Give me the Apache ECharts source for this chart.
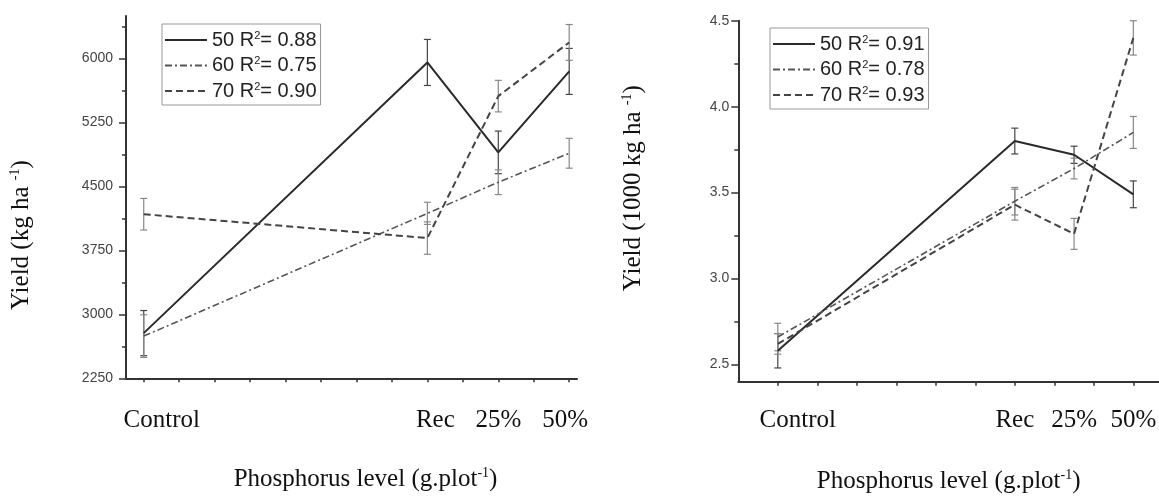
<!DOCTYPE html>
<html><head><meta charset="utf-8">
<script src="https://cdn.jsdelivr.net/npm/echarts@6/dist/echarts.min.js"></script>
<style>html,body{margin:0;padding:0;background:#fff}#c{width:1159px;height:496px}</style>
</head><body><div id="c"></div><script>
// ---- data ----
const levels = ['Control', 'Rec', '25%', '50%'];
const xLeft = [0, 8, 10, 12];
const xRight = [0, 6, 7.5, 9];
const seriesNames = ['50', '60', '70'];
const r2Left = ['0.88', '0.75', '0.90'];
const r2Right = ['0.91', '0.78', '0.93'];
// Left panel: Yield (kg ha-1)
const left50 = [2780, 5955, 4900, 5850];
const left50Err = [265, 270, 250, 270];
const left60 = [2745, 4185, 4550, 4890];
const left60Err = [250, 130, 145, 175];
const left70 = [4175, 3895, 5560, 6190];
const left70Err = [185, 190, 185, 210];
// Right panel: Yield (1000 kg ha-1)
const right50 = [2.58, 3.80, 3.72, 3.49];
const right50Err = [0.10, 0.075, 0.05, 0.078];
const right60 = [2.66, 3.45, 3.64, 3.85];
const right60Err = [0.08, 0.08, 0.06, 0.093];
const right70 = [2.62, 3.43, 3.26, 4.40];
const right70Err = [0.06, 0.09, 0.09, 0.10];
// tick labels
const leftTicks = [2250, 3000, 3750, 4500, 5250, 6000];
const leftMinorTicks = [2625, 3375, 4125, 4875, 5625, 6375];
const rightTicks = [2.5, 3.0, 3.5, 4.0, 4.5];
const rightMinorTicks = [2.75, 3.25, 3.75, 4.25];

// ---- styles ----
const SERIF = '"Liberation Serif", "Times New Roman", serif';
const SANS = '"Liberation Sans Narrow", "Arial Narrow", "Liberation Sans", Arial, sans-serif';
const lineStyles = [
  { color: '#2a2a2a', width: 2, type: 'solid' },
  { color: '#555555', width: 1.6, type: [7, 3, 2, 3] },
  { color: '#444444', width: 2, type: [7, 4] }
];
const errColors = ['#444', '#888', '#888'];

function pairs(xs, ys) { return xs.map((x, i) => [x, ys[i]]); }
function triples(xs, ys, es) { return xs.map((x, i) => [x, ys[i], es[i]]); }
function makeErr(color) {
  return function (params, api) {
    const x = api.value(0), y = api.value(1), e = api.value(2);
    const t = api.coord([x, y + e]), b = api.coord([x, y - e]);
    const hw = 3.5, st = { stroke: color, lineWidth: 1.2 };
    return { type: 'group', children: [
      { type: 'line', shape: { x1: t[0], y1: t[1], x2: b[0], y2: b[1] }, style: st },
      { type: 'line', shape: { x1: t[0] - hw, y1: t[1], x2: t[0] + hw, y2: t[1] }, style: st },
      { type: 'line', shape: { x1: b[0] - hw, y1: b[1], x2: b[0] + hw, y2: b[1] }, style: st }
    ] };
  };
}
function range(a, b) { const r = []; for (let i = a; i <= b; i++) r.push(i); return r; }

const axisLineStyle = { color: '#333', width: 2 };
const supStyle = { fontFamily: SERIF, fontSize: 14, verticalAlign: 'top', color: '#111' };

function xAxisCfg(grid, xs, min, max, tickVals, shifts, margin, nameGap, namePad) {
  const rich = {};
  levels.forEach((l, i) => {
    rich['l' + i] = { fontFamily: SERIF, fontSize: 25, color: '#111', lineHeight: 26, padding: shifts[i] };
  });
  return {
    type: 'value', gridIndex: grid, min: min, max: max,
    axisLine: { onZero: false, lineStyle: axisLineStyle },
    axisTick: { customValues: tickVals, length: 4, lineStyle: { color: '#333', width: 1.5 } },
    axisLabel: {
      customValues: xs, margin: margin, showMinLabel: true, showMaxLabel: true, hideOverlap: false,
      formatter: v => { const i = xs.indexOf(v); return i < 0 ? '' : '{l' + i + '|' + levels[i] + '}'; },
      rich: rich
    },
    splitLine: { show: false },
    name: 'Phosphorus level (g.plot{sup|-1})', nameLocation: 'middle', nameGap: nameGap,
    nameTextStyle: { fontFamily: SERIF, fontSize: 25, color: '#111', padding: namePad, lineHeight: 26, rich: { sup: supStyle } }
  };
}
function yAxisCfg(grid, min, max, ticks, fmt, labelMargin, name, nameGap, namePad) {
  return {
    type: 'value', gridIndex: grid, min: min, max: max, position: 'left',
    axisLine: { show: true, onZero: false, lineStyle: axisLineStyle },
    axisTick: { show: true, customValues: ticks, length: 7, lineStyle: { color: '#333', width: 1.5 } },
    axisLabel: { customValues: ticks, formatter: fmt, margin: labelMargin, showMinLabel: true, showMaxLabel: true,
      fontFamily: SANS, fontSize: 14, color: '#444' },
    splitLine: { show: false },
    name: name, nameLocation: 'middle', nameGap: nameGap,
    nameTextStyle: { fontFamily: SERIF, fontSize: 25, color: '#111', padding: namePad, lineHeight: 26, rich: { sup: supStyle } }
  };
}
function minorYAxis(grid, min, max, minors) {
  return {
    type: 'value', gridIndex: grid, min: min, max: max, position: 'left', offset: 0,
    axisLine: { show: false, onZero: false }, axisLabel: { show: false }, splitLine: { show: false },
    axisTick: { show: true, customValues: minors, length: 4, lineStyle: { color: '#333', width: 1.5 } }
  };
}
function legendCfg(left, top, r2) {
  return {
    left: left, top: top, orient: 'vertical', data: seriesNames,
    itemWidth: 42, itemHeight: 20, itemGap: 5.5, padding: [6, 4, 4, 2],
    borderColor: '#999', borderWidth: 1, selectedMode: false,
    itemStyle: { opacity: 0 },
    textStyle: { fontFamily: SANS, fontSize: 20, color: '#222', lineHeight: 20,
      rich: { s: { fontFamily: SANS, fontSize: 11, verticalAlign: 'top', color: '#222' } } },
    formatter: n => n + ' R{s|2}= ' + r2[seriesNames.indexOf(n)]
  };
}

const leftVals = [left50, left60, left70], leftErrs = [left50Err, left60Err, left70Err];
const rightVals = [right50, right60, right70], rightErrs = [right50Err, right60Err, right70Err];
const series = [];
[[leftVals, leftErrs, xLeft, 0, 0], [rightVals, rightErrs, xRight, 1, 2]].forEach(([vals, errs, xs, xi, yi]) => {
  vals.forEach((v, k) => {
    series.push({ type: 'custom', name: seriesNames[k] + ' err', xAxisIndex: xi, yAxisIndex: yi,
      renderItem: makeErr(errColors[k]), data: triples(xs, v, errs[k]), encode: { x: 0, y: 1 }, z: 2, silent: true });
  });
  vals.forEach((v, k) => {
    series.push({ type: 'line', name: seriesNames[k], xAxisIndex: xi, yAxisIndex: yi,
      data: pairs(xs, v), symbol: 'none', lineStyle: lineStyles[k], itemStyle: { color: lineStyles[k].color },
      z: 3, silent: true, animation: false });
  });
});

const chart = echarts.init(document.getElementById('c'), null, { renderer: 'canvas' });
chart.setOption({
  animation: false,
  backgroundColor: '#ffffff',
  grid: [
    { left: 126, top: 16, width: 451, height: 362.3, containLabel: false, outerBoundsMode: 'none' },
    { left: 738.3, top: 20.7, width: 420.7, height: 361, containLabel: false, outerBoundsMode: 'none' }
  ],
  xAxis: [
    xAxisCfg(0, xLeft, -0.5, 12.22, range(0, 12), [[0, 0, 0, 36], [0, 0, 0, 16], 0, [0, 8, 0, 0]], 29, 88, [0, 0, 0, 28]),
    xAxisCfg(1, xRight, -1, 9.65, range(0, 9), [[0, 0, 0, 40], 0, 0, 0], 26, 87, 0)
  ],
  yAxis: [
    yAxisCfg(0, 2250, 6500, leftTicks, v => String(v), 13, 'Yield (kg ha {sup|-1})', 92, [0, 76, 0, 0]),
    minorYAxis(0, 2250, 6500, leftMinorTicks),
    yAxisCfg(1, 2.4, 4.5, rightTicks, v => v.toFixed(1), 9, 'Yield (1000 kg ha {sup|-1})', 92, [0, 0, 0, 26]),
    minorYAxis(1, 2.4, 4.5, rightMinorTicks)
  ],
  legend: [legendCfg(162, 24, r2Left), legendCfg(770, 28, r2Right)],
  series: series
});
</script></body></html>
